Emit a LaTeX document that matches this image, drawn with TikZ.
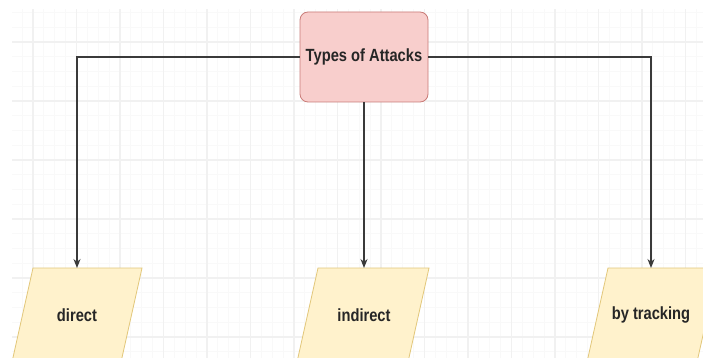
\documentclass[tikz,border=0pt]{standalone}
\usepackage{fontspec}
\setmainfont{Liberation Sans}
\usetikzlibrary{arrows.meta}
\definecolor{pinkfill}{HTML}{F8CECC}
\definecolor{pinkline}{HTML}{C97B77}
\definecolor{yelfill}{HTML}{FFF2CC}
\definecolor{yelline}{HTML}{E2C77A}
\definecolor{gridmajor}{HTML}{F1F1F1}
\definecolor{gridminor}{HTML}{F9F9F9}
\definecolor{wire}{HTML}{3A3A3A}
\newcommand{\tall}[1]{\scalebox{1}[1.2]{#1}}
\tikzset{
  lbl/.style={font=\fontsize{14.7}{16}\selectfont\bfseries, text=black!85, inner sep=0pt},
  topbox/.style={draw=pinkline, fill=pinkfill, rounded corners=8pt, line width=0.8pt,
    minimum width=128pt, minimum height=90pt, inner sep=0pt, lbl},
  para/.style={draw=yelline, fill=yelfill, line width=0.8pt},
  wirestyle/.style={draw=wire, line width=1.3pt, -{Stealth[length=9pt,width=7pt]}},
}
\begin{document}
\begin{tikzpicture}[x=1pt,y=-1pt]
\useasboundingbox (0,0) rectangle (703,358);
\clip (0,0) rectangle (703,358);
\fill[white] (0,0) rectangle (703,358);
% grid
\begin{scope}
\clip (12,10) rectangle (703,358);
\foreach \i in {-4,...,70} {
  \draw[gridminor, line width=0.8pt] ({33+\i*10.875},0) -- ({33+\i*10.875},358);
}
\foreach \j in {-3,...,26} {
  \draw[gridminor, line width=0.8pt] (0,{42+\j*14.75}) -- (703,{42+\j*14.75});
}
\foreach \i in {-1,...,17} {
  \draw[gridmajor, line width=1.2pt] ({33+\i*43.5},0) -- ({33+\i*43.5},358);
}
\foreach \j in {-1,...,6} {
  \draw[gridmajor, line width=1.2pt] (0,{42+\j*59}) -- (703,{42+\j*59});
}
\end{scope}
% parallelograms
\path[para] (33,268) -- (142,268) -- (121,362) -- (12,362) -- cycle;
\path[para] (318,268) -- (429,268) -- (408,362) -- (297,362) -- cycle;
\path[para] (608,268) -- (718,268) -- (697,362) -- (587,362) -- cycle;
\coordinate (dtop) at (77,268);
\coordinate (itop) at (364,268);
\coordinate (ttop) at (651,268);
\node[lbl] (dlbl) at (77,315) {\tall{direct}};
\node[lbl] (ilbl) at (364,315) {\tall{indirect}};
\node[lbl] (tlbl) at (651,315) {\tall{by tracking}};
% top box
\node[topbox] (types) at (364,57) {\tall{Types of Attacks}};
% connectors
\draw[wirestyle] (types.west) -| (dtop);
\draw[wirestyle] (types.south) -- (itop);
\draw[wirestyle] (types.east) -| (ttop);
\end{tikzpicture}
\end{document}
